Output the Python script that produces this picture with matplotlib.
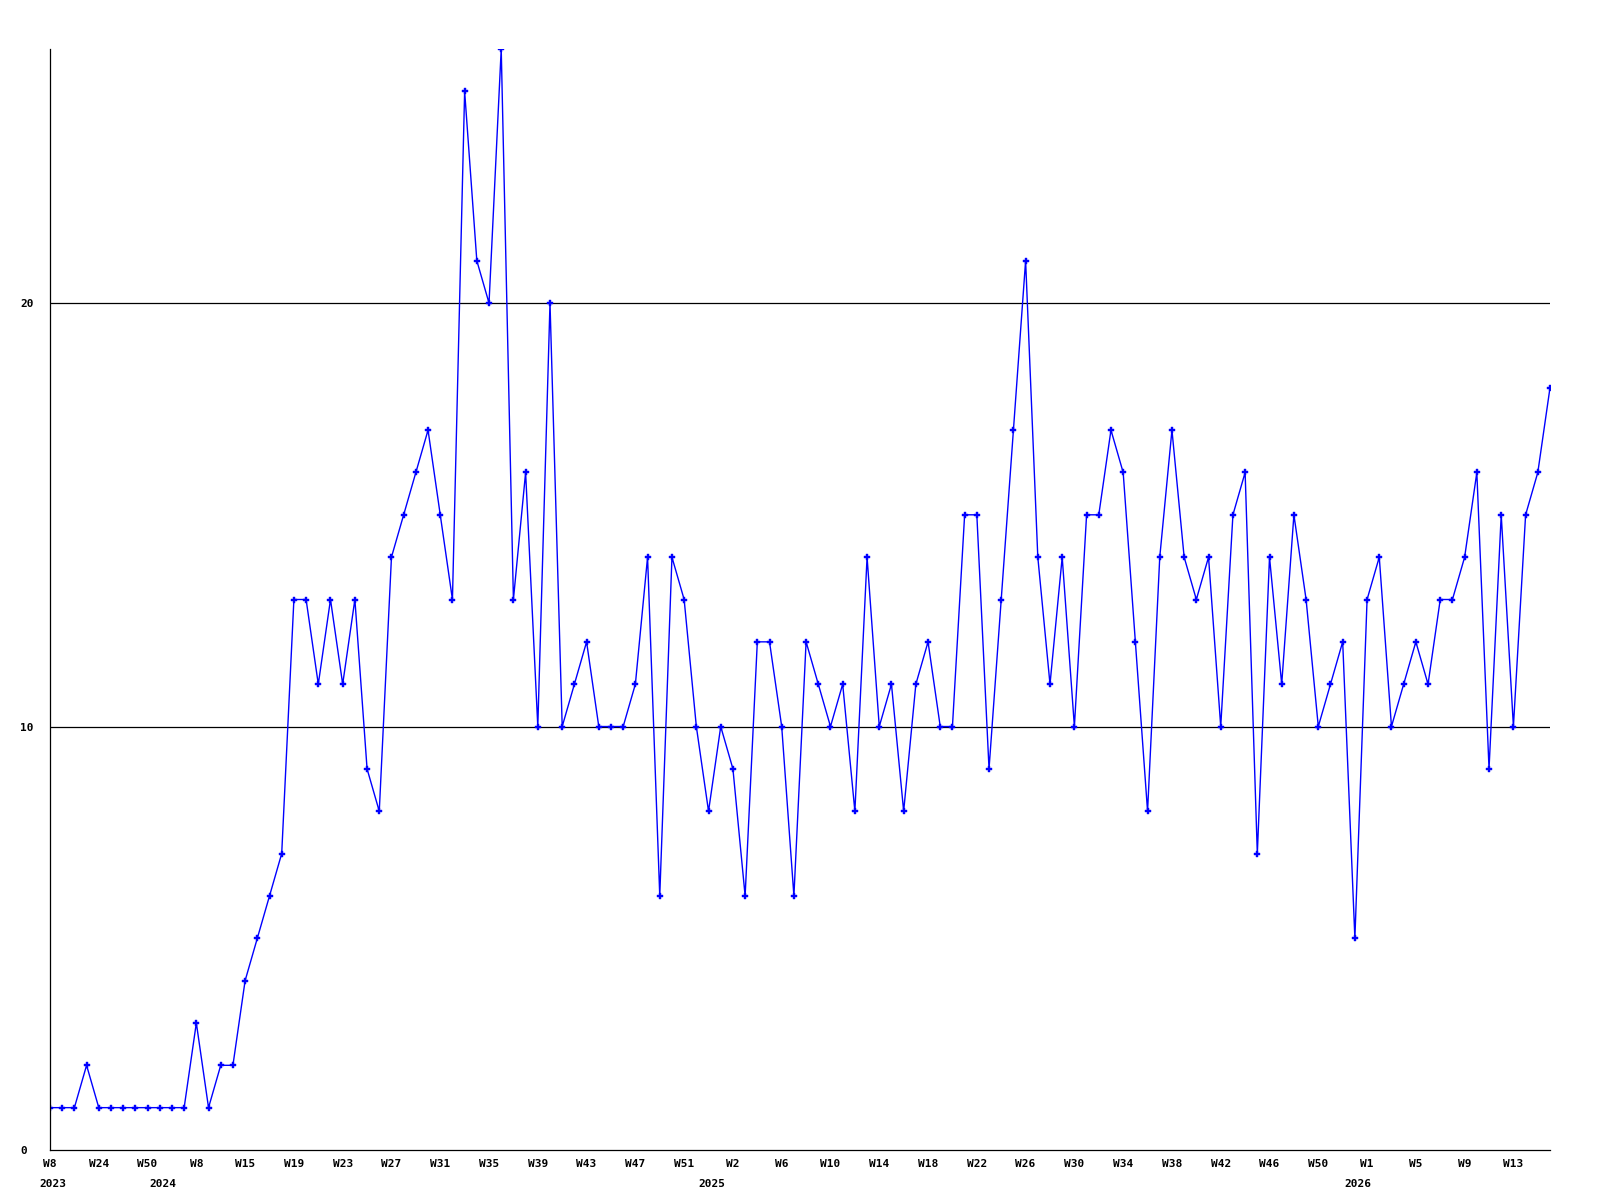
import numpy as np
import matplotlib
matplotlib.use('Agg')
import matplotlib.pyplot as plt
import matplotlib.transforms as mtransforms

# weekly counts, one point per week with data
values = [1, 1, 1, 2, 1, 1, 1, 1, 1, 1, 1, 1, 3, 1, 2, 2,
          4, 5, 6, 7, 13, 13, 11, 13, 11, 13, 9, 8, 14, 15, 16, 17,
          15, 13, 25, 21, 20, 26, 13, 16, 10, 20, 10, 11, 12, 10, 10, 10,
          11, 14, 6, 14, 13, 10, 8, 10, 9, 6, 12, 12, 10, 6, 12, 11,
          10, 11, 8, 14, 10, 11, 8, 11, 12, 10, 10, 15, 15, 9, 13, 17,
          21, 14, 11, 14, 10, 15, 15, 17, 16, 12, 8, 14, 17, 14, 13, 14,
          10, 15, 16, 7, 14, 11, 15, 13, 10, 11, 12, 5, 13, 14, 10, 11,
          12, 11, 13, 13, 14, 16, 9, 15, 10, 15, 16, 18]

# label on every 4th point
tick_labels = ['W8', 'W24', 'W50', 'W8', 'W15', 'W19', 'W23', 'W27', 'W31',
               'W35', 'W39', 'W43', 'W47', 'W51', 'W2', 'W6', 'W10', 'W14',
               'W18', 'W22', 'W26', 'W30', 'W34', 'W38', 'W42', 'W46', 'W50',
               'W1', 'W5', 'W9', 'W13']
years = ['2023', '2024', '2025', '2026']
year_start = [0, 9, 54, 107]   # index of first week in each year
y_ticks = [0, 10, 20]

font = {'family': 'DejaVu Sans Mono', 'weight': 'bold', 'size': 8}

fig = plt.figure(figsize=(16, 12), dpi=100)
ax = fig.add_axes([50/1600, 50/1200, 1500/1600, 1101/1200])

x = np.arange(len(values))
ax.plot(x, values, color='#0000ff', lw=1.0, marker='P', ms=4.6,
        mfc='#0000ff', mec='#0000ff', mew=0.3, clip_on=True)

for yv in y_ticks[1:]:
    ax.axhline(yv, color='black', lw=0.9, zorder=0)

ax.set_xlim(0, len(values) - 1)
ax.set_ylim(0, 26)

ax.spines['top'].set_visible(False)
ax.spines['right'].set_visible(False)
ax.spines['left'].set_linewidth(0.9)
ax.spines['bottom'].set_linewidth(0.9)

ax.set_xticks(x[::4])
ax.set_xticklabels(tick_labels, fontdict=font)
ax.set_yticks(y_ticks)
ax.set_yticklabels([str(v) for v in y_ticks], fontdict=font)
for lab in ax.get_yticklabels():
    lab.set_horizontalalignment('left')
ax.tick_params(axis='y', length=0, pad=21.5)
ax.tick_params(axis='x', length=0, pad=6.5)

trans = mtransforms.blended_transform_factory(ax.transData, ax.transAxes)
trans = trans + mtransforms.ScaledTranslation(0.03, 0, fig.dpi_scale_trans)
for yr, idx in zip(years, year_start):
    ax.text(idx, -0.031, yr, transform=trans, ha='center', va='center',
            fontdict=font)

fig.savefig('out.png', dpi=100, facecolor='white')
